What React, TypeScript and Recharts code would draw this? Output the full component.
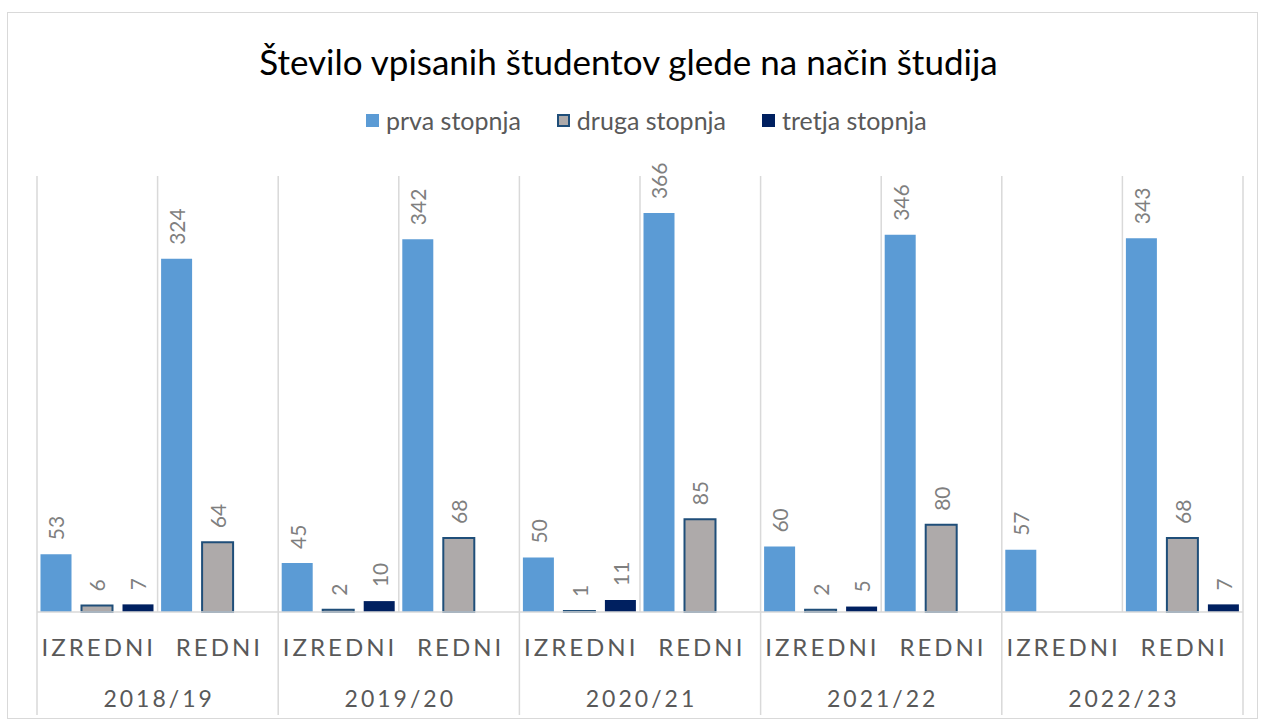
import { BarChart, Bar, XAxis, YAxis, CartesianGrid, Legend, LabelList } from "recharts";

const years = ["2018/19", "2019/20", "2020/21", "2021/22", "2022/23"];
const types = ["IZREDNI", "REDNI"];
const prva = [53, 324, 45, 342, 50, 366, 60, 346, 57, 343];
const druga = [6, 64, 2, 68, 1, 85, 2, 80, null, 68];
const tretja = [7, null, 10, null, 11, null, 5, null, null, 7];
const yDomain = [0, 400];

const series = [
    { key: "prva", name: "prva stopnja", fill: "#5B9BD5", stroke: "none" },
    { key: "druga", name: "druga stopnja", fill: "#AEAAAA", stroke: "#1F4E79" },
    { key: "tretja", name: "tretja stopnja", fill: "#002060", stroke: "none" },
];

const rows = years.flatMap((year, i) =>
    types.map((type, j) => ({
        year,
        type,
        prva: prva[i * 2 + j],
        druga: druga[i * 2 + j],
        tretja: tretja[i * 2 + j],
    }))
);

const FONT = "Lato, 'Liberation Sans', sans-serif";
const W = 1263;
const H = 722;
const TYPE_AXIS_H = 50;
const YEAR_AXIS_H = 53;
const GRID = "#D9D9D9";

function ValueLabel(props: any) {
    const { x, y, width, value } = props;
    if (value === null || value === undefined) return null;
    const cx = Number(x) + Number(width) / 2;
    const cy = Number(y) - 14;
    return (
        <text
            x={cx}
            y={cy}
            transform={`rotate(-90 ${cx} ${cy})`}
            textAnchor="start"
            dominantBaseline="central"
            fontSize={21}
            fill="#7F7F7F"
            fontFamily={FONT}
        >
            {value}
        </text>
    );
}

function TypeTick({ x, y, payload }: any) {
    return (
        <text
            x={x}
            y={y + 34}
            dx={1.5}
            textAnchor="middle"
            dominantBaseline="central"
            fontSize={24}
            letterSpacing={3}
            fill="#595959"
            fontFamily={FONT}
        >
            {payload.value}
        </text>
    );
}

function YearTick({ x, y, payload, index }: any) {
    const half = payload.offset ?? (W - 37 - 20) / 20;
    const top = y - TYPE_AXIS_H;
    const bottom = y + YEAR_AXIS_H;
    if (index % 2 === 1) {
        if (index !== rows.length - 1) return null;
        return <line x1={x + half} x2={x + half} y1={top} y2={bottom} stroke={GRID} strokeWidth={1.5} />;
    }
    return (
        <g>
            <line x1={x - half} x2={x - half} y1={top} y2={bottom} stroke={GRID} strokeWidth={1.5} />
            <text
                x={x + half}
                y={y + 36}
                dx={1.5}
                textAnchor="middle"
                dominantBaseline="central"
                fontSize={23}
                letterSpacing={3}
                fill="#595959"
                fontFamily={FONT}
            >
                {payload.value}
            </text>
        </g>
    );
}

function LegendContent() {
    return (
        <div style={{ display: "flex", alignItems: "center", fontFamily: FONT, fontSize: 25, color: "#595959" }}>
            {series.map((s) => (
                <div key={s.key} style={{ display: "flex", alignItems: "center", marginRight: 36 }}>
                    <span
                        style={{
                            display: "inline-block",
                            width: 13,
                            height: 13,
                            background: s.fill,
                            border: s.stroke === "none" ? "none" : `2px solid ${s.stroke}`,
                            boxSizing: "border-box",
                            marginRight: 7,
                        }}
                    />
                    <span>{s.name}</span>
                </div>
            ))}
        </div>
    );
}

export default function App() {
    return (
        <div style={{ position: "absolute", left: 0, top: 0, width: W, height: H, background: "#fff" }}>
            <div
                style={{
                    position: "absolute",
                    left: 7,
                    top: 12,
                    width: 1251,
                    height: 707,
                    border: `1.5px solid ${GRID}`,
                    boxSizing: "border-box",
                }}
            />
            <div
                style={{
                    position: "absolute",
                    left: 0,
                    top: 38,
                    width: 1257,
                    textAlign: "center",
                    fontFamily: FONT,
                    fontSize: 35,
                    color: "#000",
                    lineHeight: "46px",
                }}
            >
                Število vpisanih študentov glede na način študija
            </div>
            <BarChart
                width={W}
                height={H}
                data={rows}
                margin={{ top: 176, right: 20, left: 37, bottom: 7 }}
                barCategoryGap={3.5}
                barGap={10}
                style={{ position: "absolute", left: 0, top: 0 }}
            >
                <CartesianGrid
                    horizontal={false}
                    stroke={GRID}
                    strokeWidth={1.5}
                    verticalCoordinatesGenerator={({ offset }: any) =>
                        rows.map((_, i) => offset.left + (i * offset.width) / rows.length).concat(offset.left + offset.width)
                    }
                />
                <XAxis
                    dataKey="type"
                    interval={0}
                    tickLine={false}
                    tickSize={0}
                    tickMargin={0}
                    height={TYPE_AXIS_H}
                    axisLine={{ stroke: GRID, strokeWidth: 1.5 }}
                    tick={<TypeTick />}
                />
                <XAxis
                    xAxisId="year"
                    dataKey="year"
                    interval={0}
                    tickLine={false}
                    tickSize={0}
                    tickMargin={0}
                    height={YEAR_AXIS_H}
                    axisLine={false}
                    tick={<YearTick />}
                />
                <YAxis hide domain={yDomain} />
                <Legend
                    layout="horizontal"
                    verticalAlign="middle"
                    align="center"
                    wrapperStyle={{ position: "absolute", top: 105, left: 366, width: 760 }}
                    content={<LegendContent />}
                />
                {series.map((s) => (
                    <Bar
                        key={s.key}
                        dataKey={s.key}
                        name={s.name}
                        fill={s.fill}
                        stroke={s.stroke}
                        strokeWidth={s.stroke === "none" ? 0 : 2}
                        isAnimationActive={false}
                    >
                        <LabelList dataKey={s.key} content={<ValueLabel />} />
                    </Bar>
                ))}
            </BarChart>
        </div>
    );
}
